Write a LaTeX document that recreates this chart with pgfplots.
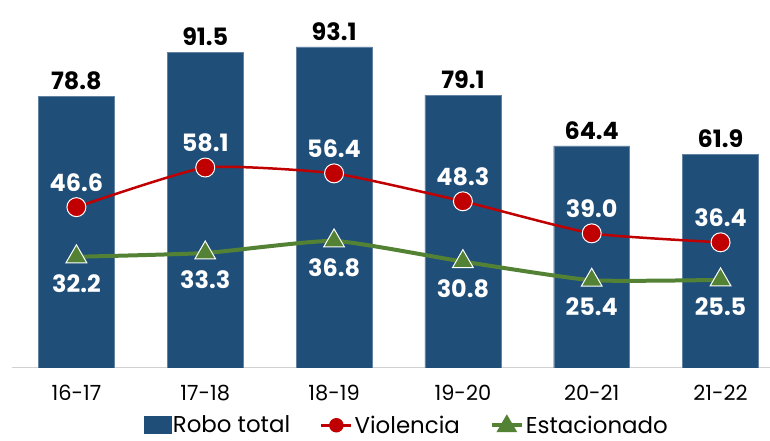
\documentclass[border=0pt]{standalone}
\usepackage{pgfplots}
\pgfplotsset{compat=1.18}
\usepackage{fontspec}
\setmainfont{Poppins}
\definecolor{barblue}{RGB}{31,78,121}
\definecolor{linered}{RGB}{192,0,0}
\definecolor{linegreen}{RGB}{84,130,53}
\begin{document}
\begin{tikzpicture}
\begin{axis}[
    scale only axis,
    width=758bp, height=368bp,
    xmin=-0.5, xmax=5.38,
    ymin=0, ymax=106.7,
    axis x line*=bottom,
    hide y axis,
    x axis line style={draw=black!18, line width=1bp},
    xtick={0,1,2,3,4,5},
    xticklabels={16-17,17-18,18-19,19-20,20-21,21-22},
    xtick style={draw=none},
    xticklabel style={font=\fontsize{21}{23}\selectfont, yshift=-14bp},
    /pgf/number format/.cd, fixed, fixed zerofill, precision=1, assume math mode=true,
    /pgfplots/.cd,
    legend style={at={(0.521,-0.188)}, anchor=south, draw=none, inner sep=0pt,
        legend columns=-1, font=\fontsize{23}{25}\selectfont,
        /tikz/every even column/.append style={column sep=28bp}},
    legend cell align=left,
]
\addplot[ybar, bar width=76bp, fill=barblue, draw=barblue!70!white,
    area legend,
    legend image code/.code={\fill[barblue] (0bp,-8bp) rectangle (27bp,9bp);},
    nodes near coords,
    every node near coord/.append style={font=\bfseries\fontsize{24}{26}\selectfont, black, anchor=south, yshift=3bp}]
    coordinates {(0,78.8) (1,91.5) (2,93.1) (3,79.1) (4,64.4) (5,61.9)};
\addlegendentry{Robo total}

\addplot[linered, line width=2.5bp, smooth, tension=0.3,
    mark=*, mark size=9.5bp, mark options={fill=linered, draw=white, line width=1bp},
    legend image code/.code={\draw[linered, line width=2.5bp] (0bp,0bp) -- (30bp,0bp);
        \fill[linered] (15bp,0bp) circle (6bp);},
    nodes near coords,
    every node near coord/.append style={font=\bfseries\fontsize{24}{26}\selectfont, white, anchor=south, yshift=12bp}]
    coordinates {(0,46.6) (1,58.1) (2,56.4) (3,48.3) (4,39.0) (5,36.4)};
\addlegendentry{Violencia}

\addplot[linegreen, line width=4bp, smooth, tension=0.3,
    mark=triangle*, mark size=12bp, mark options={fill=linegreen, draw=white, line width=1bp},
    legend image code/.code={\draw[linegreen, line width=4bp] (0bp,0bp) -- (30bp,0bp);
        \fill[linegreen] (8bp,-5bp) -- (22bp,-5bp) -- (15bp,7bp) -- cycle;},
    nodes near coords,
    every node near coord/.append style={font=\bfseries\fontsize{24}{26}\selectfont, white, anchor=north, yshift=-14bp}]
    coordinates {(0,32.2) (1,33.3) (2,36.8) (3,30.8) (4,25.4) (5,25.5)};
\addlegendentry{Estacionado}
\end{axis}
\path ([shift={(-12bp,-73bp)}]current axis.south west) rectangle (current axis.north east);
\end{tikzpicture}
\end{document}
